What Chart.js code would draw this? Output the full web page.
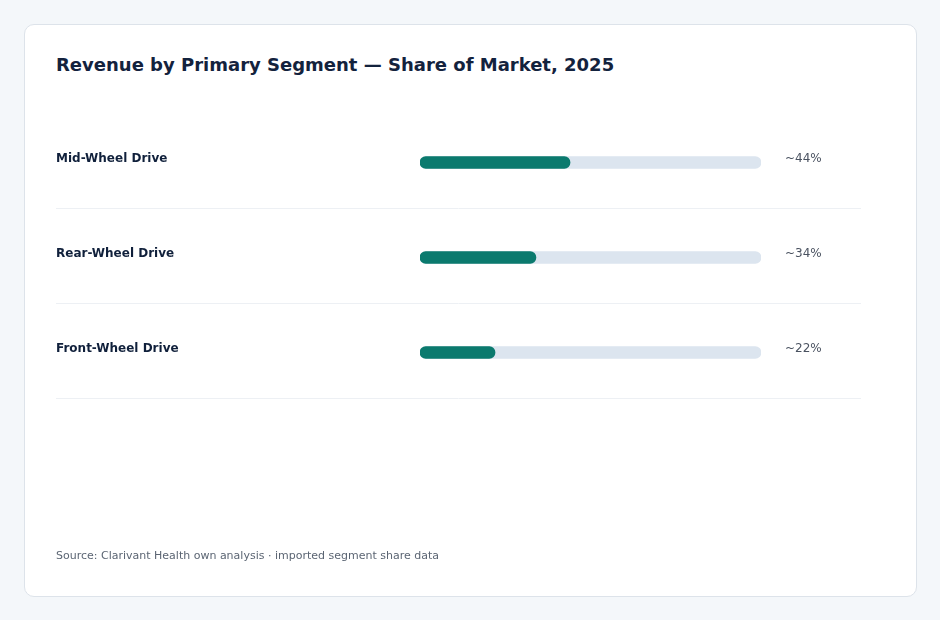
<!DOCTYPE html>
<html>
<head>
<meta charset="utf-8">
<script src="https://cdn.jsdelivr.net/npm/chart.js@4.4.1/dist/chart.umd.min.js"></script>
<style>
  html, body { margin: 0; padding: 0; background: #f4f7fa; width: 940px; height: 620px; overflow: hidden; }
  body { font-family: "DejaVu Sans", sans-serif; position: relative; }
  .card {
    position: absolute; left: 24px; top: 24px; width: 891px; height: 571px;
    background: #fff; border: 1px solid #dde3ea; border-radius: 10px;
  }
  h1 {
    position: absolute; left: 56px; top: 54px; margin: 0;
    font-size: 18px; font-weight: bold; color: #13223d; white-space: nowrap;
  }
  .source {
    position: absolute; left: 56px; top: 549px; margin: 0;
    font-size: 11px; color: #5b6573; white-space: nowrap;
  }
  #chart { position: absolute; left: 0; top: 0; }
</style>
</head>
<body>
<div class="card"></div>
<h1>Revenue by Primary Segment — Share of Market, 2025</h1>
<canvas id="chart" width="940" height="620"></canvas>
<p class="source">Source: Clarivant Health own analysis · imported segment share data</p>

<script>
// segment names and share values (%)
const segments = ['Mid-Wheel Drive', 'Rear-Wheel Drive', 'Front-Wheel Drive'];
const shares = [44, 34, 22];
const shareLabels = ['~44%', '~34%', '~22%'];
const trackValues = [100, 100, 100];

// draws row labels, value labels and separators from the scale positions
const rowDecor = {
  id: 'rowDecor',
  afterDatasetsDraw(chart) {
    const { ctx, scales: { x, y } } = chart;
    ctx.save();
    segments.forEach((name, i) => {
      const cy = y.getPixelForValue(i);
      ctx.textBaseline = 'alphabetic';
      ctx.textAlign = 'left';
      ctx.fillStyle = '#10203b';
      ctx.font = 'bold 12px "DejaVu Sans"';
      ctx.fillText(name, 56, cy - 1);
      ctx.fillStyle = '#4a5260';
      ctx.font = '12px "DejaVu Sans"';
      ctx.fillText(shareLabels[i], x.right + 24, cy - 1);
      // separator at the bottom of each row band
      const bottom = cy + (y.height / segments.length) / 2 - 2;
      ctx.strokeStyle = '#edf0f4';
      ctx.lineWidth = 1;
      ctx.beginPath();
      ctx.moveTo(56, Math.round(bottom) + 0.5);
      ctx.lineTo(861, Math.round(bottom) + 0.5);
      ctx.stroke();
    });
    ctx.restore();
  }
};

new Chart(document.getElementById('chart'), {
  type: 'bar',
  data: {
    labels: segments,
    datasets: [
      {
        label: 'Share',
        data: shares,
        backgroundColor: '#0b7a6e',
        borderRadius: 6,
        borderSkipped: false,
        barThickness: 12,
        grouped: false,
        order: 1
      },
      {
        label: 'Track',
        data: trackValues,
        backgroundColor: '#dce5ef',
        borderRadius: 6,
        borderSkipped: false,
        barThickness: 12,
        grouped: false,
        order: 2
      }
    ]
  },
  options: {
    indexAxis: 'y',
    responsive: false,
    animation: false,
    layout: { padding: { left: 420, right: 179, top: 115, bottom: 220 } },
    plugins: { legend: { display: false }, tooltip: { enabled: false } },
    scales: {
      x: { min: 0, max: 100, display: false },
      y: { display: false }
    }
  },
  plugins: [rowDecor]
});
</script>
</body>
</html>
